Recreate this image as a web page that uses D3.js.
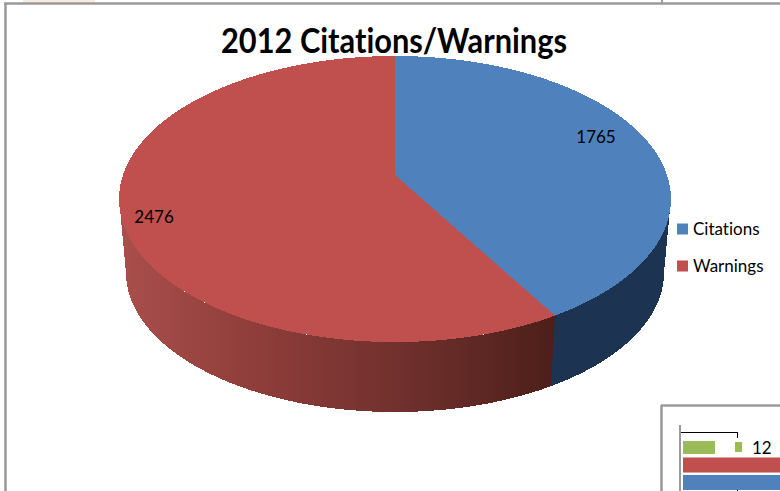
<!DOCTYPE html>
<html><head><meta charset="utf-8">
<style>html,body{margin:0;padding:0;background:#fff;overflow:hidden}svg{display:block}text{font-family:Lato,"Open Sans",sans-serif;fill:#000;font-variant-ligatures:none}</style>
<script src="https://cdnjs.cloudflare.com/ajax/libs/d3/7.8.5/d3.min.js"></script>
</head><body><svg id="c" width="780" height="491"></svg>
<script>
const title = "2012 Citations/Warnings";
const categories = ["Citations", "Warnings"];
const values = [1765, 2476];
const topColors = ["#4f81bd", "#c0504d"];
const insetCategories = ["green", "red", "blue"];
const insetLabel = "12";

const svg = d3.select("#c");
const defs = svg.append("defs");

// Perspective projection of a unit disc onto the picture plane
const CX = 395, APEX = 175, R = 272, C = 0.168, A = -109.6;
function proj(u, v) {
  const d = 1 + C * v;
  return [CX + R * u / d, (A * v + APEX) / d];
}
const S = 0.975, DY = 78.5;
const lower = p => [CX + S * (p[0] - CX), DY + S * p[1]];
const rim = (a0, a1) => d3.range(0, 241).map(i => {
  const t = a0 + (a1 - a0) * i / 240;
  return proj(Math.sin(t), Math.cos(t));
});

const arcs = d3.pie().sort(null)(values);
const line = d3.line();

// Side wall shading
const gr = defs.append("linearGradient").attr("id", "redSide")
  .attr("gradientUnits", "userSpaceOnUse").attr("x1", 120).attr("x2", 555).attr("y1", 0).attr("y2", 0);
[[0, "#a94f4c"], [0.3, "#903e3b"], [0.65, "#70302d"], [1, "#4d1f1a"]]
  .forEach(s => gr.append("stop").attr("offset", s[0]).attr("stop-color", s[1]));
const sideFills = ["#1d3352", "url(#redSide)"];

const pie = svg.append("g").attr("shape-rendering", "crispEdges");
// Only the part of the wall facing the viewer: between the two silhouette angles
const frontStart = Math.acos(-C), frontEnd = 2 * Math.PI - frontStart;
arcs.forEach((a, i) => {
  const r = rim(Math.max(a.startAngle, frontStart), Math.min(a.endAngle, frontEnd));
  pie.append("path").attr("d", line(r.concat(r.map(lower).reverse())) + "Z").attr("fill", sideFills[i]);
});
arcs.forEach((a, i) => {
  const r = rim(a.startAngle, a.endAngle);
  pie.append("path").attr("d", line([proj(0, 0)].concat(r)) + "Z").attr("fill", topColors[i]);
});

// Data labels, placed along each slice's mid-angle
const labelRadius = [0.80, 0.875], labelDy = [-4, 15], labelDx = [-2, -2];
arcs.forEach((a, i) => {
  const m = (a.startAngle + a.endAngle) / 2, f = labelRadius[i];
  const p = proj(f * Math.sin(m), f * Math.cos(m));
  svg.append("text").attr("x", p[0] + labelDx[i]).attr("y", p[1] + labelDy[i])
    .attr("text-anchor", "middle").attr("font-size", 17).text(values[i]);
});

// Title
svg.append("text").attr("x", 221).attr("y", 53)
  .attr("font-size", 35).attr("font-weight", 700)
  .attr("textLength", 346).attr("lengthAdjust", "spacingAndGlyphs").text(title);

// Legend
const ly = d3.scalePoint().domain(categories).range([229, 266]);
categories.forEach((c, i) => {
  svg.append("rect").attr("x", 677).attr("y", ly(c) - 5.5).attr("width", 11).attr("height", 11).attr("fill", topColors[i]);
  svg.append("text").attr("x", 693).attr("y", ly(c) + 5.5).attr("font-size", 17).text(c);
});

// Page frame fragments
const gray = "#9a9a9a";
const seg = (x1, y1, x2, y2, col, w) => svg.append("line").attr("x1", x1).attr("y1", y1).attr("x2", x2).attr("y2", y2).attr("stroke", col).attr("stroke-width", w);
svg.append("rect").attr("x", 23).attr("y", 0).attr("width", 72).attr("height", 2.5).attr("fill", "#f6e9dd");
seg(4, 3.5, 780, 3.5, gray, 2.5);
seg(5.5, 3, 5.5, 491, gray, 2.5);
seg(662, 0, 662, 3, gray, 2);

// Inset chart fragment at the lower right
seg(661, 405.5, 780, 405.5, gray, 2.5);
seg(661.5, 405, 661.5, 491, gray, 2.5);
seg(680, 425, 680, 491, gray, 2);
seg(681, 432.5, 737.5, 432.5, "#000", 1);
seg(737.5, 432, 737.5, 438, "#000", 1);
seg(737.5, 489, 737.5, 491, "#000", 1);
const insetY = d3.scaleBand().domain(insetCategories).range([440, 490]).paddingInner(0.14);
const insetFill = {green: "#9bbb59", red: "#c0504d", blue: "#4f81bd"};
const insetX = d3.scaleLinear().domain([0, 1]).range([683, 780]);
insetCategories.forEach(k => {
  if (k !== "green") svg.append("rect").attr("x", insetX(0)).attr("y", insetY(k)).attr("width", insetX(1) - insetX(0)).attr("height", insetY.bandwidth()).attr("fill", insetFill[k]);
});
svg.append("rect").attr("x", insetX(0)).attr("y", 441).attr("width", 32).attr("height", 13).attr("fill", insetFill.green);
svg.append("rect").attr("x", 735).attr("y", 442).attr("width", 7).attr("height", 10).attr("fill", insetFill.green);
svg.append("text").attr("x", 752).attr("y", 454).attr("font-size", 17).text(insetLabel);
</script></body></html>
